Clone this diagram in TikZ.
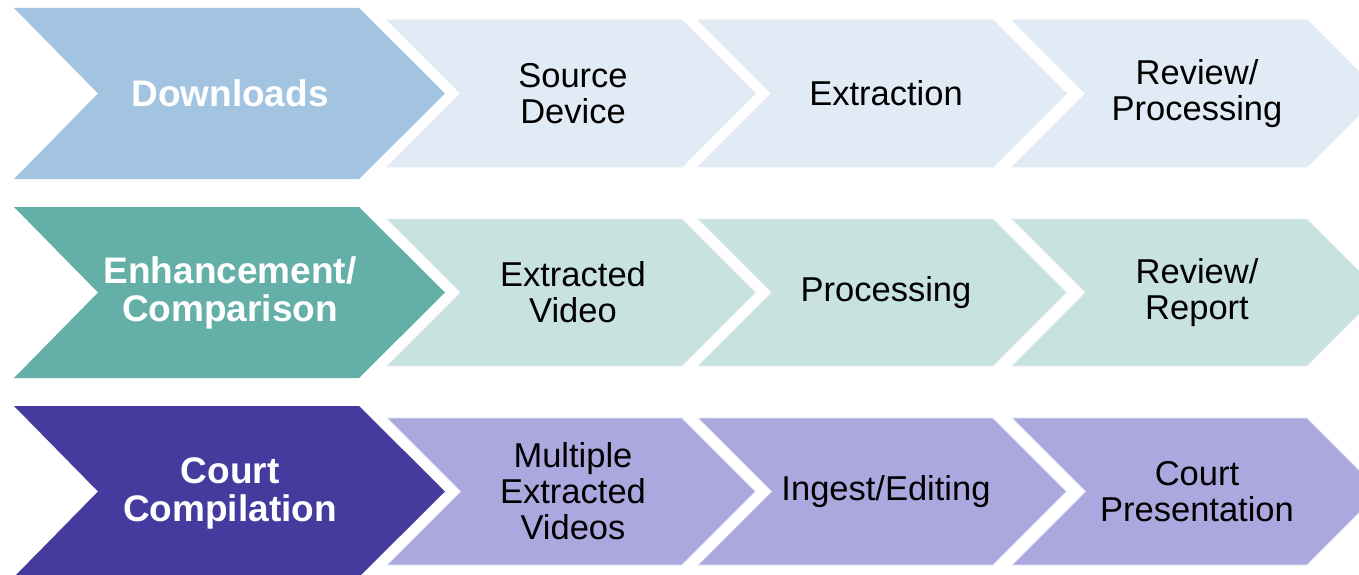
\documentclass[tikz,border=0pt]{standalone}
\usepackage{fontspec}
\setmainfont{Liberation Sans}
\usepackage{tikz}

\definecolor{dlbig}{HTML}{A3C4E1}
\definecolor{dlsmall}{HTML}{E1EBF5}
\definecolor{enbig}{HTML}{64AFA7}
\definecolor{ensmall}{HTML}{C7E2DF}
\definecolor{ccbig}{HTML}{453A9E}
\definecolor{ccsmall}{HTML}{ACA7DF}
\definecolor{glow}{HTML}{E4EAF3}

\begin{document}
\begin{tikzpicture}[x=1pt, y=-1pt,
    bigtxt/.style={text=white, font=\bfseries\fontsize{37}{38}\selectfont, align=center},
    smalltxt/.style={text=black, font=\fontsize{34.5}{36}\selectfont, align=center}]
    \useasboundingbox (0,0) rectangle (1359,575);
    \clip (0,0) rectangle (1359,575);

    % Fletxes grans
    \foreach \t/\c in {8/dlbig, 207/enbig, 406/ccbig} {
        \fill[\c] (14,\t) -- (359,\t) -- (445,\t+85.5) -- (359,\t+171)
            -- (14,\t+171) -- (98,\t+85.5) -- cycle;
    }

    % Fletxes petites
    \foreach \t/\c in {8/dlsmall, 207/ensmall, 406/ccsmall} {
        \foreach \s in {387,698,1012} {
            \filldraw[fill=\c, draw=glow, line width=0.8pt] (\s,\t+12) -- (\s+295,\t+12)
                -- (\s+368.5,\t+85.5) -- (\s+295,\t+159) -- (\s,\t+159)
                -- (\s+73.5,\t+85.5) -- cycle;
        }
    }

    % Textos
    \node[bigtxt] (downloads) at (230,93.5) {Downloads};
    \node[bigtxt] (enhance) at (230,292.5) {Enhancement/\\Comparison};
    \node[bigtxt] (court) at (230,493) {Court\\Compilation};

    \node[smalltxt] (source) at (573,93.5) {Source\\Device};
    \node[smalltxt] (extraction) at (886,93.5) {Extraction};
    \node[smalltxt] (reviewproc) at (1197,93.5) {Review/\\Processing};

    \node[smalltxt] (extvideo) at (573,292.5) {Extracted\\Video};
    \node[smalltxt] (processing) at (886,292.5) {Processing};
    \node[smalltxt] (reviewrep) at (1197,292.5) {Review/\\Report};

    \node[smalltxt] (multiple) at (573,491.5) {Multiple\\Extracted\\Videos};
    \node[smalltxt] (ingest) at (886,491.5) {Ingest/Editing};
    \node[smalltxt] (courtpres) at (1197,491.5) {Court\\Presentation};
\end{tikzpicture}
\end{document}
